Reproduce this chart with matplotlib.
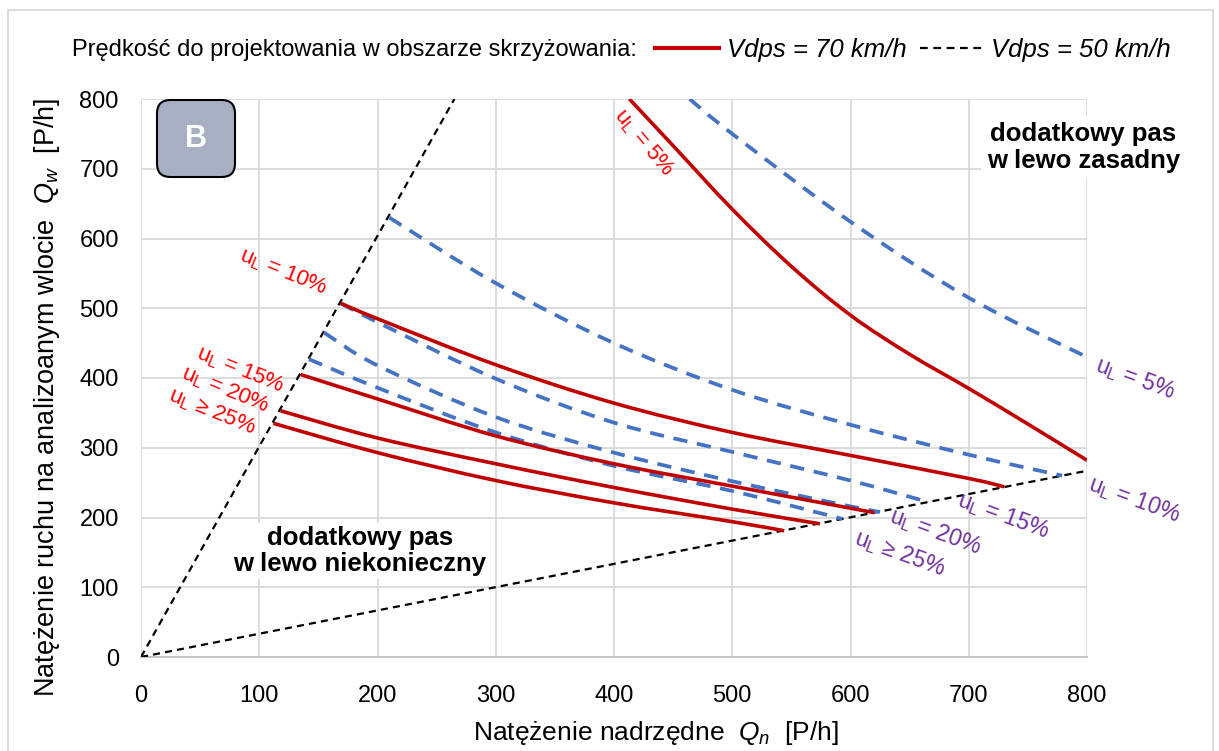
import matplotlib
matplotlib.use('Agg')
import matplotlib.pyplot as plt
import numpy as np
from matplotlib.lines import Line2D
from matplotlib.patches import FancyBboxPatch, Rectangle, PathPatch
from matplotlib.path import Path

plt.rcParams['font.family'] = ['Liberation Sans', 'DejaVu Sans']
plt.rcParams['mathtext.fontset'] = 'custom'
plt.rcParams['mathtext.rm'] = 'Liberation Sans'
plt.rcParams['mathtext.it'] = 'Liberation Sans:italic'

# boundary lines (dashed black)
bound_hi_x = [0, 265]
bound_hi_y = [0, 800]
bound_lo_x = [0, 800]
bound_lo_y = [0, 267]

# Vdps = 70 km/h (red, solid)
v70_u5_x = [413, 450, 500, 550, 600, 650, 700, 750, 800]
v70_u5_y = [800, 733, 642, 560, 490, 434, 385, 334, 282]
v70_u10_x = [169, 200, 300, 400, 500, 600, 700, 730]
v70_u10_y = [507, 485, 419, 364, 322, 289, 256, 244]
v70_u15_x = [135, 200, 300, 400, 500, 620]
v70_u15_y = [405, 370, 317, 277, 245, 207]
v70_u20_x = [118, 200, 300, 400, 500, 574]
v70_u20_y = [353, 314, 277, 243, 212, 191]
v70_u25_x = [112, 200, 300, 400, 500, 544]
v70_u25_y = [335, 293, 253, 221, 194, 181]

# Vdps = 50 km/h (blue, dashed)
v50_u5_x = [464, 500, 600, 700, 800]
v50_u5_y = [800, 750, 624, 515, 430]
v50_u10_x = [210, 300, 400, 500, 600, 700, 779]
v50_u10_y = [630, 536, 450, 383, 333, 290, 260]
v50_u15_x = [169, 200, 300, 400, 500, 600, 666]
v50_u15_y = [507, 480, 399, 336, 294, 253, 222]
v50_u20_x = [155, 200, 300, 400, 500, 600, 625]
v50_u20_y = [465, 418, 344, 293, 252, 216, 208]
v50_u25_x = [142, 200, 300, 400, 500, 593]
v50_u25_y = [427, 386, 322, 274, 238, 198]

ticks = [0, 100, 200, 300, 400, 500, 600, 700, 800]

red = '#C00000'
blue = '#4472C4'
lbl_red = '#FF0000'
lbl_purple = '#7030A0'


def smooth_path(xs, ys):
    # Catmull-Rom style bezier through the read points (like Excel's smoothed line)
    p = np.column_stack([xs, ys]).astype(float)
    verts = [p[0]]
    codes = [Path.MOVETO]
    n = len(p)
    for i in range(n - 1):
        p0 = p[i - 1] if i > 0 else p[i]
        p3 = p[i + 2] if i + 2 < n else p[i + 1]
        c1 = p[i] + (p[i + 1] - p0) / 6
        c2 = p[i + 1] - (p3 - p[i]) / 6
        verts += [c1, c2, p[i + 1]]
        codes += [Path.CURVE4] * 3
    return Path(verts, codes)


fig = plt.figure(figsize=(12.19, 7.51), dpi=100)
ax = fig.add_axes([141/1219, 1 - 657/751, 946/1219, 558/751])

ax.plot(bound_hi_x, bound_hi_y, color='black', lw=1.6, dashes=(3.2, 2.3), zorder=3)
ax.plot(bound_lo_x, bound_lo_y, color='black', lw=1.6, dashes=(3.2, 2.3), zorder=3)

for xs, ys in [(v50_u5_x, v50_u5_y), (v50_u10_x, v50_u10_y), (v50_u15_x, v50_u15_y),
               (v50_u20_x, v50_u20_y), (v50_u25_x, v50_u25_y)]:
    ax.add_patch(PathPatch(smooth_path(xs, ys), fill=False, edgecolor=blue, lw=2.7,
                           linestyle=(0, (3.8, 2.6)), zorder=4))

for xs, ys in [(v70_u5_x, v70_u5_y), (v70_u10_x, v70_u10_y), (v70_u15_x, v70_u15_y),
               (v70_u20_x, v70_u20_y), (v70_u25_x, v70_u25_y)]:
    ax.add_patch(PathPatch(smooth_path(xs, ys), fill=False, edgecolor=red, lw=2.6,
                           capstyle='butt', zorder=5))

ax.set_xlim(0, 800)
ax.set_ylim(0, 800)
ax.set_xticks(ticks)
ax.set_yticks(ticks)
ax.grid(True, color='#D9D9D9', lw=1.3)
ax.set_axisbelow(True)
for s in ['top', 'right', 'left']:
    ax.spines[s].set_visible(False)
ax.spines['bottom'].set_color('#BFBFBF')
ax.spines['bottom'].set_linewidth(1.3)
ax.tick_params(length=0, labelsize=17)
ax.tick_params(axis='x', pad=20)
ax.tick_params(axis='y', pad=16)

ax.set_xlabel('Natężenie nadrzędne  $Q_n$  [P/h]', fontsize=19)
ax.set_ylabel('Natężenie ruchu na analizoanym wlocie  $Q_w$  [P/h]', fontsize=19.5)
ax.xaxis.set_label_coords((656 - 141) / 946, -(733 - 657) / 558)
ax.yaxis.set_label_coords(-(141 - 47) / 946, (657 - 397) / 558)
ax.xaxis.label.set_va('center')
ax.yaxis.label.set_va('center')

# curve labels
ul = r'u$_\mathrm{L}$'
ax.text(425, 738, ul + ' = 5%', color=lbl_red, fontsize=16, rotation=-50, ha='center', va='center')
ax.text(120, 552, ul + ' = 10%', color=lbl_red, fontsize=16, rotation=-22, ha='center', va='center')
ax.text(84, 411, ul + ' = 15%', color=lbl_red, fontsize=16, rotation=-22, ha='center', va='center')
ax.text(71, 383, ul + ' = 20%', color=lbl_red, fontsize=16, rotation=-22, ha='center', va='center')
ax.text(60, 351, ul + ' ≥ 25%', color=lbl_red, fontsize=16, rotation=-22, ha='center', va='center')

ax.text(841, 400, ul + ' = 5%', color=lbl_purple, fontsize=16.5, rotation=-20, ha='center', va='center', clip_on=False)
ax.text(840, 225, ul + ' = 10%', color=lbl_purple, fontsize=16.5, rotation=-20, ha='center', va='center', clip_on=False)
ax.text(729, 202, ul + ' = 15%', color=lbl_purple, fontsize=16.5, rotation=-20, ha='center', va='center')
ax.text(672, 179, ul + ' = 20%', color=lbl_purple, fontsize=16.5, rotation=-20, ha='center', va='center')
ax.text(642, 149, ul + ' ≥ 25%', color=lbl_purple, fontsize=16.5, rotation=-20, ha='center', va='center')

ax.text(797, 731, 'dodatkowy pas\nw lewo zasadny', fontsize=18.5, fontweight='bold', ha='center',
        va='center', linespacing=1.15, zorder=6, clip_on=False,
        bbox=dict(facecolor='white', edgecolor='none', pad=4))
ax.text(185, 152, 'dodatkowy pas\nw lewo niekonieczny', fontsize=18.5, fontweight='bold', ha='center',
        va='center', linespacing=1.15, zorder=6,
        bbox=dict(facecolor='white', edgecolor='none', pad=2))

# "B" badge
fig.patches.append(FancyBboxPatch((157/1219, 1 - 177/751), 78/1219, 77/751,
                                  boxstyle='round,pad=0,rounding_size=0.011',
                                  mutation_aspect=1219/751, transform=fig.transFigure,
                                  facecolor='#A7B0C3', edgecolor='black', lw=1.5, zorder=10))
fig.text(196/1219, 1 - 139/751, 'B', color='white', fontsize=22, fontweight='bold',
         ha='center', va='center', zorder=11)

# legend row
fig.text(72/1219, 1 - 50/751, 'Prędkość do projektowania w obszarze skrzyżowania:',
         fontsize=17, ha='left', va='center')
handles = [Line2D([], [], color=red, lw=3),
           Line2D([], [], color='black', lw=1.6, dashes=(3.5, 2.5))]
fig.legend(handles, ['Vdps = 70 km/h', 'Vdps = 50 km/h'], loc='center left',
           bbox_to_anchor=(655/1219, 1 - 50/751), ncol=2, frameon=False,
           prop={'size': 18.5, 'style': 'italic'}, handlelength=2.5,
           handletextpad=0.3, columnspacing=0.5, borderpad=0, borderaxespad=0)

# outer frame
fig.patches.append(Rectangle((8/1219, -0.01), 1205/1219, 1 - 10/751 + 0.01,
                             transform=fig.transFigure, fill=False,
                             edgecolor='#D9D9D9', lw=1.3))

fig.savefig('out.png', dpi=100)
